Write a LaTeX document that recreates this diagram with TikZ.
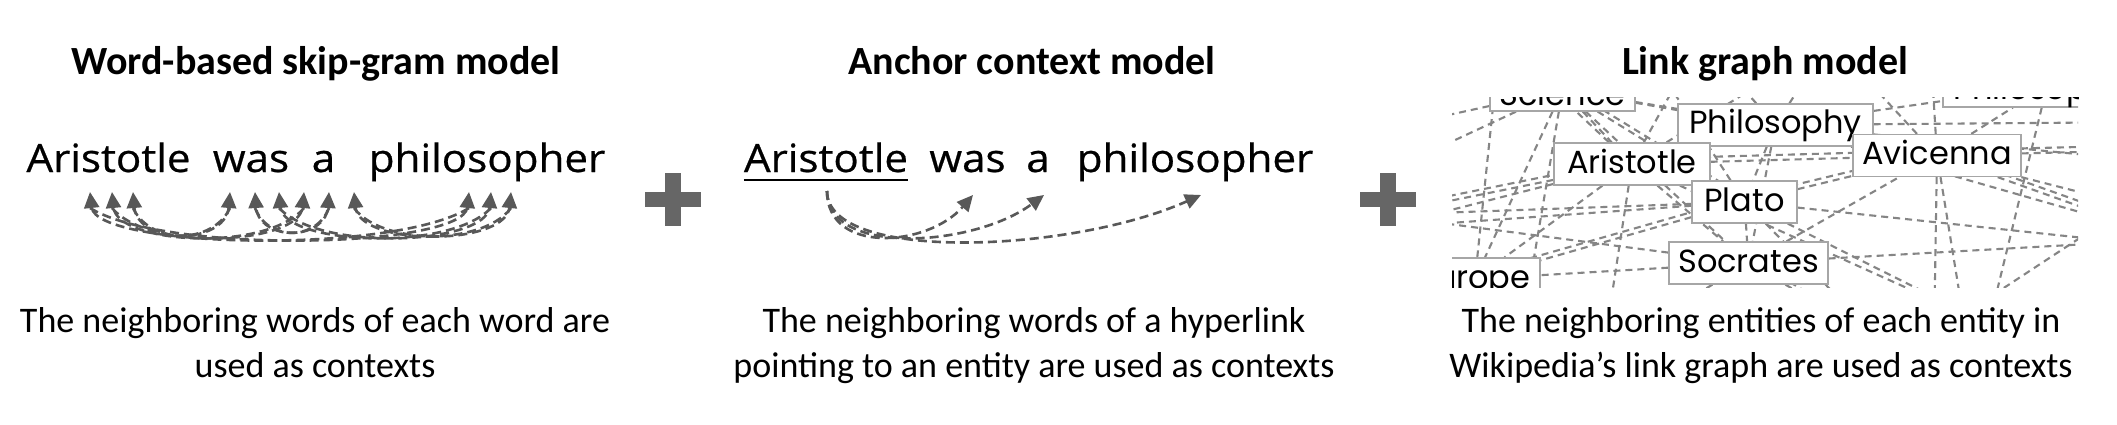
\documentclass[tikz,border=0pt]{standalone}
\usepackage{fontspec}
\setmainfont{Carlito}
\newfontfamily\sentfont[FakeStretch=1.08,FakeBold=0.6]{Open Sans}
\newfontfamily\graphfont{Poppins}
\usetikzlibrary{arrows.meta,calc}
\definecolor{arrgray}{HTML}{585858}
\definecolor{plusgray}{HTML}{666666}
\definecolor{edgegray}{HTML}{858585}
\definecolor{boxgray}{HTML}{A6A6A6}
\pgfdeclarelayer{bottom}
\pgfdeclarelayer{background}
\pgfsetlayers{bottom,background,main}
\begin{document}
\begin{tikzpicture}[x=1pt,y=-1pt,
  ttl/.style={anchor=base,inner sep=0pt,font=\bfseries\fontsize{40pt}{48pt}\selectfont},
  sent/.style={anchor=base,inner sep=0pt,font=\sentfont\fontsize{39pt}{46pt}\selectfont},
  desc/.style={anchor=base,inner sep=0pt,font=\fontsize{36pt}{44pt}\selectfont},
  ctx/.style={draw=arrgray,dash pattern=on 9pt off 5pt,line width=2.6pt,
    -{Triangle[length=16pt,width=15pt,fill=arrgray]}},
  gedge/.style={draw=edgegray,dash pattern=on 7pt off 5pt,line width=2.1pt},
  gbox/.style={draw=boxgray,fill=white,line width=1.3pt,inner sep=0pt,
    minimum height=42pt,text height=25pt,text depth=7pt,
    font=\graphfont\fontsize{32pt}{36pt}\selectfont},
  plusbar/.style={fill=plusgray}]
\begin{pgfonlayer}{bottom}
\fill[white] (0,0) rectangle (2117,425);
\end{pgfonlayer}
\useasboundingbox (0,0) rectangle (2117,425);

% titles
\node[ttl] (t1) at (316,75) {Word-based skip-gram model};
\node[ttl] (t2) at (1032,75) {Anchor context model};
\node[ttl] (t3) at (1765,75) {Link graph model};

% panel 1 sentence
\node[sent] (w1) at (108.5,172) {Aristotle};
\node[sent] (w2) at (251,172) {was};
\node[sent] (w3) at (323.5,172) {a};
\node[sent] (w4) at (487,172) {philosopher};

\foreach \n/\x in {A1/133,A2/112,A3/90,W1/230,W2/255,W3/279,a1/304,a2/329,a3/354,P1/469,P2/491,P3/511}{
  \coordinate (h\n) at (\x,192);
  \coordinate (t\n) at (\x,208);
}
\draw[ctx] (tA1) .. controls +(20,42) and +(-4,48) .. (hW1);
\draw[ctx] (tA2) .. controls +(38,45) and +(-5,52) .. (ha1);
\draw[ctx] (tA3) .. controls +(76,47) and +(-6,56) .. (hP1);
\draw[ctx] (tW1) .. controls +(-20,42) and +(4,48) .. (hA1);
\draw[ctx] (tW2) .. controls +(15,38) and +(-3,44) .. (ha2);
\draw[ctx] (tW3) .. controls +(43,45) and +(-5,52) .. (hP2);
\draw[ctx] (ta1) .. controls +(-38,45) and +(5,52) .. (hA2);
\draw[ctx] (ta2) .. controls +(-15,38) and +(3,44) .. (hW2);
\draw[ctx] (ta3) .. controls +(31,42) and +(-5,50) .. (hP3);
\draw[ctx] (tP1) .. controls +(-76,47) and +(6,56) .. (hA3);
\draw[ctx] (tP2) .. controls +(-43,45) and +(5,52) .. (hW3);
\draw[ctx] (tP3) .. controls +(-31,42) and +(5,50) .. (ha3);

% plus signs
\fill[plusbar] (665,173) rectangle (681,226);
\fill[plusbar] (645,192) rectangle (701,207);
\fill[plusbar] (1380,173) rectangle (1396,226);
\fill[plusbar] (1360,192) rectangle (1416,207);

% panel 2 sentence
\node[sent] (v1) at (826,172) {Aristotle};
\node[sent] (v2) at (967.5,172) {was};
\node[sent] (v3) at (1038,172) {a};
\node[sent] (v4) at (1195,172) {philosopher};
\draw[line width=2.5pt] ($(v1.base west)+(0,8)$) -- ($(v1.base east)+(0,8)$);
\coordinate (s2) at (827,191);
\coordinate (e2a) at (973,195);
\coordinate (e2b) at (1044,195);
\coordinate (e2c) at (1201,195);
\draw[ctx] (s2) .. controls +(0,64) and +(-45,52) .. (e2a);
\draw[ctx] (s2) .. controls +(0,66) and +(-70,52) .. (e2b);
\draw[ctx] (s2) .. controls +(0,72) and +(-130,58) .. (e2c);

% panel 3 graph
\begin{scope}
\clip (1452,98) rectangle (2078,287);
\node[gbox,minimum width=145pt,text height=32pt,text depth=0pt] (Sci) at (1562.5,90) {Science};
\node[gbox,minimum width=208pt,text height=30pt,text depth=2pt] (Phs) at (2047,86) {Philosopher};
\node[gbox,minimum width=195pt] (Phy) at (1775.5,125) {Philosophy};
\node[gbox,minimum width=168pt] (Avi) at (1937,155.5) {Avicenna};
\node[gbox,minimum width=156pt] (Ari) at (1632,164) {Aristotle};
\node[gbox,minimum width=105pt] (Pla) at (1744.5,202) {Plato};
\node[gbox,minimum width=159pt] (Soc) at (1748.5,263) {Socrates};
\node[gbox,minimum width=130pt] (Eur) at (1475,279) {Europe};
\end{scope}
\coordinate (L1) at (1380,175);
\coordinate (L2) at (1380,215);
\coordinate (L3) at (1380,228);
\coordinate (L4) at (1380,246);
\coordinate (L5) at (1380,130);
\coordinate (T1) at (1700,40);
\coordinate (T2) at (1830,40);
\coordinate (T3) at (1930,40);
\coordinate (T4) at (1640,40);
\coordinate (T5) at (1500,40);
\coordinate (R1) at (2160,122);
\coordinate (R2) at (2160,150);
\coordinate (R3) at (2160,162);
\coordinate (R4) at (2160,235);
\coordinate (R5) at (2160,246);
\coordinate (R6) at (2160,240);
\coordinate (R7) at (2130,205);
\coordinate (R8) at (2160,100);
\coordinate (B1) at (1620,340);
\coordinate (B2) at (1605,340);
\coordinate (B3) at (1934,340);
\coordinate (B4) at (1967,340);
\coordinate (B5) at (1985,340);
\coordinate (B6) at (2000,330);
\coordinate (B7) at (1700,340);
\coordinate (B8) at (1880,340);
\coordinate (B9) at (1955,320);
\coordinate (B10) at (1520,340);
\begin{pgfonlayer}{background}
\begin{scope}
\clip (1452,98) rectangle (2078,287);
\foreach \a/\b in {Sci/L1,Sci/Eur,Sci/Ari,Sci/Pla,Sci/Phy,Sci/Avi,Sci/T4,Sci/Soc,Sci/T2,Sci/L5,
  Ari/L2,Ari/L3,Pla/L3,Pla/L2,Eur/L4,Soc/L2,Ari/Eur,Pla/Eur,Soc/Eur,Ari/B2,Soc/B1,Pla/Soc,Ari/Soc,
  Ari/Pla,Ari/Phy,Ari/Avi,Pla/Avi,Phy/Avi,Phy/Pla,Soc/Avi,Phy/Soc,Avi/B3,Avi/B4,Avi/R4,Phy/R4,
  Pla/R5,Soc/R6,Avi/R2,Phy/R3,Phy/R1,Phs/B5,Phy/Phs,Avi/T3,Phy/T2,Ari/T1,
  Pla/B6,Ari/B6,Avi/Phs,Soc/B8,Pla/B8,Eur/B7,R7/B9,Phy/T1,Pla/T4,Ari/T2,Avi/T2,Phs/T3,Phs/R8,
  Ari/T5,Sci/B10,Eur/T5,Avi/R7}{
  \draw[gedge] (\a) -- (\b);
}
\foreach \a/\b in {Ari/Avi,Pla/Eur,Ari/L2,Avi/R2,Avi/R4,Soc/B8,Sci/Pla,Phy/Ari,Pla/Avi}{
  \draw[gedge] ([yshift=5pt]\a.center) -- ([yshift=5pt]\b.center);
}
\end{scope}
\end{pgfonlayer}

% descriptions
\node[desc] (d1a) at (315,332) {The neighboring words of each word are};
\node[desc] (d1b) at (315,377) {used as contexts};
\node[desc] (d2a) at (1034,332) {The neighboring words of a hyperlink};
\node[desc] (d2b) at (1034,377) {pointing to an entity are used as contexts};
\node[desc] (d3a) at (1761,332) {The neighboring entities of each entity in};
\node[desc] (d3b) at (1761,377) {Wikipedia’s link graph are used as contexts};
\end{tikzpicture}
\end{document}
